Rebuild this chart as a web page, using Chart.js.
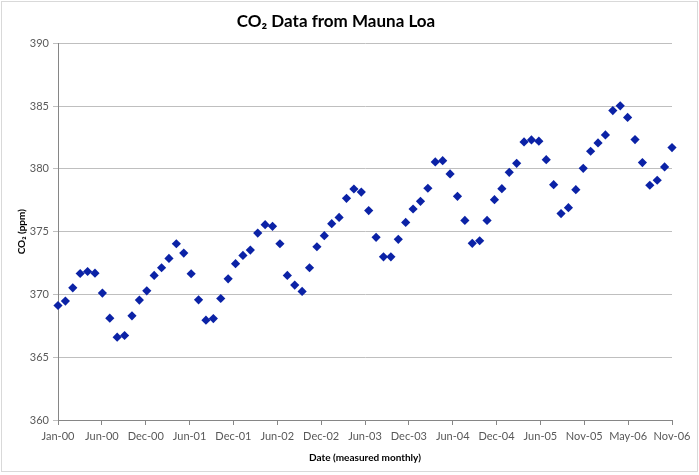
<!DOCTYPE html>
<html>
<head>
<meta charset="utf-8">
<script src="https://cdn.jsdelivr.net/npm/chart.js@4.4.1/dist/chart.umd.min.js"></script>
<style>
  body { margin: 0; background: #fff; }
  #wrap { width: 699px; height: 475px; }
</style>
</head>
<body>
<div id="wrap"><canvas id="co2Chart"></canvas></div>
<script>
// monthly CO2 readings, Jan 2000 - Dec 2006
var co2 = [
  369.12, 369.47, 370.53, 371.67, 371.83, 371.70, 370.11, 368.11, 366.60, 366.73, 368.30, 369.55,
  370.29, 371.52, 372.13, 372.87, 374.04, 373.30, 371.65, 369.57, 367.95, 368.08, 369.68, 371.25,
  372.45, 373.11, 373.54, 374.89, 375.56, 375.43, 374.04, 371.52, 370.75, 370.24, 372.13, 373.80,
  374.68, 375.64, 376.14, 377.66, 378.40, 378.16, 376.68, 374.55, 373.00, 373.00, 374.39, 375.74,
  376.81, 377.42, 378.46, 380.56, 380.66, 379.60, 377.82, 375.90, 374.07, 374.28, 375.90, 377.55,
  378.43, 379.73, 380.45, 382.15, 382.31, 382.21, 380.74, 378.75, 376.44, 376.91, 378.35, 380.05,
  381.41, 382.07, 382.71, 384.65, 385.03, 384.10, 382.34, 380.51, 378.70, 379.10, 380.16, 381.70
];
var xTickLabels = ["Jan-00", "Jun-00", "Dec-00", "Jun-01", "Dec-01", "Jun-02", "Dec-02", "Jun-03",
  "Dec-03", "Jun-04", "Dec-04", "Jun-05", "Nov-05", "May-06", "Nov-06"];
var yTicks = [360, 365, 370, 375, 380, 385, 390];

var monthSpan = co2.length - 1;

// light frame round the whole chart
var frame = {
  id: "frame",
  beforeDraw: function (chart) {
    var ctx = chart.ctx;
    ctx.save();
    ctx.fillStyle = "#fff";
    ctx.fillRect(0, 0, chart.width, chart.height);
    ctx.strokeStyle = "#d9d9d9";
    ctx.lineWidth = 1;
    ctx.strokeRect(1.5, 1.5, chart.width - 3, chart.height - 5);
    ctx.restore();
  }
};

new Chart("co2Chart", {
  type: "scatter",
  data: {
    datasets: [{
      data: co2.map(function (v, i) { return { x: i, y: v }; }),
      pointStyle: "rectRot",
      pointRadius: 4.6,
      pointHoverRadius: 4.6,
      backgroundColor: "#0b22a6",
      borderColor: "#0b22a6",
      borderWidth: 0,
      clip: false
    }]
  },
  plugins: [frame],
  options: {
    responsive: true,
    maintainAspectRatio: false,
    animation: false,
    layout: { padding: { left: 0, right: 27, top: 0, bottom: 0 } },
    plugins: {
      legend: { display: false },
      tooltip: { enabled: false },
      title: {
        display: true,
        text: "CO\u2082 Data from Mauna Loa",
        color: "#000",
        font: { family: "Lato", size: 17, weight: "bold" },
        padding: { top: 11, bottom: 12 }
      }
    },
    scales: {
      x: {
        type: "linear",
        min: 0,
        max: monthSpan,
        afterBuildTicks: function (scale) {
          scale.ticks = xTickLabels.map(function (_, i) {
            return { value: i * monthSpan / (xTickLabels.length - 1) };
          });
        },
        afterFit: function (scale) { scale.height = 55; },
        ticks: {
          autoSkip: false,
          maxRotation: 0,
          padding: 5,
          color: "#595959",
          font: { family: "Lato", size: 11 },
          callback: function (value, index) { return xTickLabels[index]; }
        },
        grid: { drawOnChartArea: false, drawTicks: true, tickLength: 5, color: "#868686" },
        border: { color: "#868686" },
        title: {
          display: true,
          text: "Date (measured monthly)",
          color: "#000",
          font: { family: "Lato", size: 10, weight: "bold" },
          padding: { bottom: 11 }
        }
      },
      y: {
        min: yTicks[0],
        max: yTicks[yTicks.length - 1],
        afterBuildTicks: function (scale) {
          scale.ticks = yTicks.map(function (v) { return { value: v }; });
        },
        afterFit: function (scale) { scale.width = 58; },
        ticks: {
          padding: 4,
          color: "#595959",
          font: { family: "Lato", size: 11 }
        },
        grid: { color: "#bfbfbf", tickLength: 5 },
        border: { color: "#868686" },
        title: {
          display: true,
          text: "CO\u2082 (ppm)",
          color: "#000",
          font: { family: "Lato", size: 10, weight: "bold" },
          padding: { top: 16 }
        }
      }
    }
  }
});
</script>
</body>
</html>
